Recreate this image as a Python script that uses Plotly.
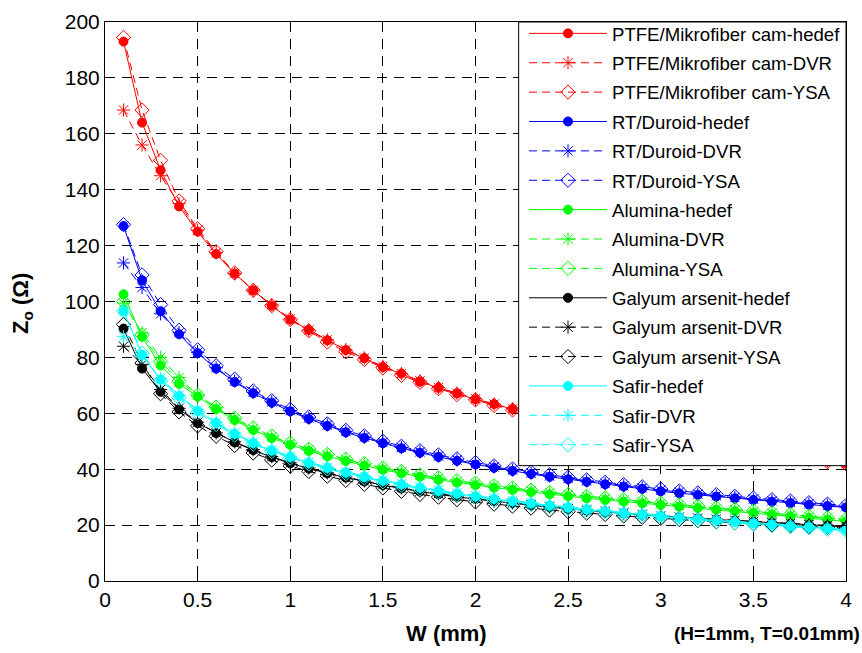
import plotly.graph_objects as go

W = [0.1, 0.2, 0.3, 0.4, 0.5, 0.6, 0.7, 0.8, 0.9, 1.0,
     1.1, 1.2, 1.3, 1.4, 1.5, 1.6, 1.7, 1.8, 1.9, 2.0,
     2.1, 2.2, 2.3, 2.4, 2.5, 2.6, 2.7, 2.8, 2.9, 3.0,
     3.1, 3.2, 3.3, 3.4, 3.5, 3.6, 3.7, 3.8, 3.9, 4.0]

ptfe_hedef = [193, 164, 147, 134, 125, 117, 110, 104, 98.5, 93.5, 89.8, 86.1, 82.6, 79.7, 76.5, 74.2, 71.3, 69.1, 67.1, 65,
              63.3, 61.5, 60, 58.5, 57, 55.7, 54.4, 53.1, 52, 50.9, 49.8, 48.8, 47.8, 46.9, 46, 45.2, 44.4, 43.6, 42.8, 42]
ptfe_dvr = [168.5, 156, 145, 135, 125.5, 117.5, 110, 104, 98.8, 93.8, 89.8, 86.3, 82.8, 79.8, 76.8, 74.2, 71.6, 69.2, 67.2, 65.2,
            63.3, 61.6, 60.1, 58.6, 57.1, 55.8, 54.5, 53.2, 52.1, 51, 49.9, 48.9, 47.9, 47, 46.1, 45.3, 44.5, 43.7, 42.9, 42.1]
ptfe_ysa = [194.5, 168.5, 150.5, 136, 126, 117.8, 110.2, 104, 98.5, 93.5, 89.5, 85.5, 82, 79.2, 76.2, 73.6, 71.1, 68.8, 66.7, 64.8,
            62.8, 61.2, 59.7, 58.3, 56.8, 55.5, 54.2, 53, 51.9, 50.8, 49.7, 48.7, 47.7, 46.8, 45.9, 45.1, 44.3, 43.5, 42.7, 41.9]

rt_hedef = [127, 107.6, 96.5, 88.3, 81.5, 76, 71.2, 67.2, 63.8, 60.7, 58, 55.5, 53.2, 51.2, 49.3, 47.5, 45.9, 44.4, 43, 41.7,
            40.5, 39.4, 38.3, 37.3, 36.4, 35.5, 34.6, 33.8, 33, 32.1, 31.4, 30.8, 30.2, 29.6, 29, 28.4, 27.9, 27.3, 26.8, 26.3]
rt_dvr = [113.8, 105, 95.6, 88.8, 81.8, 76.3, 71.5, 67.5, 64.1, 61, 58.3, 55.8, 53.5, 51.5, 49.6, 47.8, 46.2, 44.7, 43.3, 42,
          40.8, 39.7, 38.6, 37.6, 36.7, 35.8, 34.9, 34.1, 33.3, 32.5, 31.8, 31.1, 30.5, 29.9, 29.3, 28.7, 28.2, 27.6, 27.1, 26.6]
rt_ysa = [127.5, 109.5, 98.9, 89.7, 82.7, 77, 72.2, 68, 64.5, 61.4, 58.7, 56.2, 53.9, 51.9, 50, 48.2, 46.6, 45.1, 43.7, 42.4,
          41.2, 40.1, 39, 38, 37.1, 36.2, 35.3, 34.5, 33.7, 32.9, 32.2, 31.5, 30.9, 30.3, 29.7, 29.1, 28.6, 28, 27.5, 27]

al_hedef = [102.6, 87.4, 77.1, 70.5, 66, 61.5, 57.6, 54, 51.1, 48.7, 46.5, 44.6, 42.9, 41.3, 39.8, 38.5, 37.3, 36.2, 35.2, 34.3,
            33.4, 32.6, 31.8, 31, 30.3, 29.6, 29, 28.4, 27.8, 27.2, 26.6, 26.1, 25.5, 25, 24.4, 23.8, 23.2, 22.6, 22, 21.3]
al_dvr = [99.4, 88.8, 80, 72.8, 66.5, 62, 58, 54.5, 51.6, 49.2, 47, 45.1, 43.4, 41.8, 40.3, 39, 37.8, 36.7, 35.7, 34.8,
          33.9, 33.1, 32.3, 31.5, 30.8, 30.1, 29.5, 28.9, 28.3, 27.7, 27.1, 26.6, 26, 25.5, 24.9, 24.3, 23.7, 23.1, 22.5, 21.8]
al_ysa = [100, 88, 78.5, 71.5, 66.5, 62.2, 58.3, 54.8, 51.9, 49.4, 47.2, 45.3, 43.6, 42, 40.5, 39.2, 38, 36.9, 35.9, 35,
          34.1, 33.3, 32.5, 31.7, 31, 30.3, 29.7, 29.1, 28.5, 27.9, 27.3, 26.8, 26.2, 25.7, 25.1, 24.5, 23.9, 23.3, 22.7, 22]

ga_hedef = [90.3, 76, 67.7, 61.5, 56.5, 52.9, 49.6, 46.8, 44.3, 42.1, 40.2, 38.5, 37, 35.6, 34.3, 33.1, 32, 31, 30.1, 29.3,
            28.5, 27.8, 27.1, 26.4, 25.8, 25.2, 24.7, 24.2, 23.7, 23.2, 22.8, 22.4, 22, 21.6, 21.2, 20.8, 20.4, 20.1, 19.8, 19.4]
ga_dvr = [84, 77.5, 68.5, 61.8, 56.8, 53, 49.8, 47, 44.5, 42.3, 40.4, 38.7, 37.2, 35.8, 34.5, 33.3, 32.2, 31.2, 30.3, 29.4,
          28.6, 27.9, 27.2, 26.5, 25.9, 25.3, 24.8, 24.3, 23.8, 23.3, 22.9, 22.5, 22.1, 21.7, 21.3, 20.9, 20.5, 20.2, 19.9, 19.5]
ga_ysa = [91.8, 78, 67, 60.5, 55.5, 51.8, 48.5, 45.8, 43.3, 41.1, 39.2, 37.5, 36, 34.6, 33.3, 32.1, 31, 30, 29.1, 28.3,
          27.5, 26.8, 26.1, 25.4, 24.8, 24.3, 23.8, 23.3, 22.8, 22.4, 22, 21.6, 21.2, 20.8, 20.4, 20.1, 19.8, 19.5, 19.2, 18.9]

sa_hedef = [96.5, 81, 72, 66.2, 60.8, 56.5, 52.6, 49.3, 46.6, 44.3, 42.2, 40.4, 38.7, 37.2, 35.8, 34.5, 33.3, 32.2, 31.2, 30.2,
            29.3, 28.5, 27.7, 26.9, 26.2, 25.5, 24.9, 24.3, 23.7, 23.1, 22.6, 22.1, 21.6, 21.1, 20.6, 20.1, 19.6, 19.2, 18.7, 18.2]
sa_dvr = [87.4, 80.3, 72.5, 66.5, 61.2, 56.8, 52.9, 49.6, 46.9, 44.6, 42.5, 40.7, 39, 37.5, 36.1, 34.8, 33.6, 32.5, 31.5, 30.5,
          29.6, 28.8, 28, 27.2, 26.5, 25.8, 25.2, 24.6, 24, 23.4, 22.9, 22.4, 21.9, 21.4, 20.9, 20.4, 19.9, 19.5, 19, 18.5]
sa_ysa = [96.5, 81.5, 71.5, 65.5, 60.2, 56, 52.2, 49, 46.3, 44, 41.9, 40.1, 38.4, 36.9, 35.5, 34.2, 33, 31.9, 30.9, 29.9,
          29, 28.2, 27.4, 26.6, 25.9, 25.2, 24.6, 24, 23.4, 22.8, 22.3, 21.8, 21.3, 20.8, 20.3, 19.8, 19.4, 19, 18.5, 18]

materials = ["PTFE/Mikrofiber cam", "RT/Duroid", "Alumina", "Galyum arsenit", "Safir"]
colors = ["#FF0000", "#0000FF", "#00FF00", "#000000", "#00FFFF"]
data = [
    (ptfe_hedef, ptfe_dvr, ptfe_ysa),
    (rt_hedef, rt_dvr, rt_ysa),
    (al_hedef, al_dvr, al_ysa),
    (ga_hedef, ga_dvr, ga_ysa),
    (sa_hedef, sa_dvr, sa_ysa),
]
suffixes = ["hedef", "DVR", "YSA"]
symbols = ["circle", "asterisk-open", "diamond-open"]
sizes = [9, 11, 11]
dashes = ["solid", "8px,5px", "8px,5px"]

FONT = "Liberation Sans, Arial, sans-serif"

fig = go.Figure()
k = 0
for mat, col, series in zip(materials, colors, data):
    for suf, sym, sz, dsh, ys in zip(suffixes, symbols, sizes, dashes, series):
        marker = dict(symbol=sym, size=sz, color=col, line=dict(color=col, width=1))
        fig.add_trace(go.Scatter(
            x=W, y=ys, mode="lines+markers", name=f"{mat}-{suf}",
            line=dict(color=col, width=1, dash=dsh),
            marker=marker, legendgroup=f"g{k}",
        ))
        k += 1

axis_common = dict(
    showline=True, linecolor="black", linewidth=1, mirror="ticks",
    ticks="inside", ticklen=5, tickcolor="black",
    showgrid=True, gridcolor="black", gridwidth=1, griddash="10px,7px",
    zeroline=False, tickfont=dict(family=FONT, size=21, color="black"),
)

# legend frame (MATLAB-style box flush with the axes' top-right corner)
lx0, ly0 = (522 - 105) / 747, (581 - 464) / 567

fig.update_layout(
    width=862, height=653,
    margin=dict(l=105, r=10, t=14, b=72),
    paper_bgcolor="white", plot_bgcolor="white",
    xaxis=dict(range=[0, 4], dtick=0.5, tick0=0, **axis_common),
    yaxis=dict(range=[0, 200], dtick=20, tick0=0, **axis_common),
    legend=dict(
        x=1.0, y=0.2097, xanchor="right", yanchor="bottom",
        bgcolor="rgba(0,0,0,0)", borderwidth=0,
        font=dict(family=FONT, size=18.6, color="black"),
        traceorder="grouped", tracegroupgap=2.2, itemwidth=78,
    ),
    showlegend=True,
    shapes=[dict(type="rect", xref="paper", yref="paper", x0=lx0, x1=1.0, y0=ly0, y1=1.0,
                 line=dict(color="black", width=1), fillcolor="white", layer="above")],
    annotations=[
        dict(text="W (mm)", xref="paper", yref="paper", x=0.4605, y=-0.0935,
             xanchor="center", yanchor="middle", showarrow=False,
             font=dict(family=FONT, size=22, color="black", weight="bold")),
        dict(text="(H=1mm, T=0.01mm)", xref="paper", yref="paper", x=1.021, y=-0.0935,
             xanchor="right", yanchor="middle", showarrow=False,
             font=dict(family=FONT, size=19, color="black", weight="bold")),
        dict(text="Z<sub>o</sub> (Ω)", xref="paper", yref="paper", x=-0.112, y=0.4956,
             xanchor="center", yanchor="middle", showarrow=False, textangle=-90,
             font=dict(family=FONT, size=22, color="black", weight="bold")),
    ],
)

fig.write_html("out.html")
